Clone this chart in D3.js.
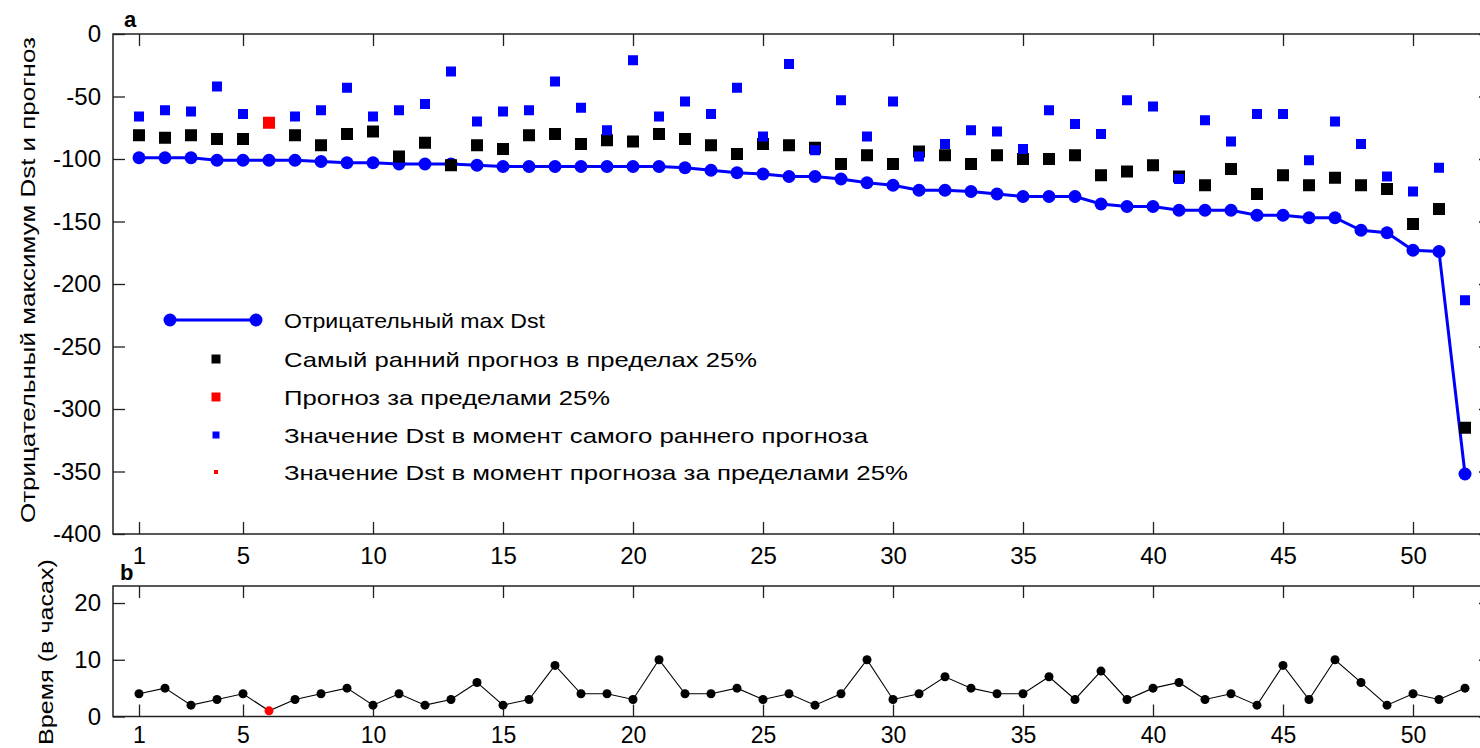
<!DOCTYPE html>
<html>
<head>
<meta charset="utf-8">
<script src="https://cdn.jsdelivr.net/npm/d3@7"></script>
<style>
  html, body { margin: 0; padding: 0; background: #fff; overflow: hidden; }
  svg { display: block; }
  text { font-family: "Liberation Sans", Arial, sans-serif; fill: #000; }
</style>
</head>
<body>
<svg id="chart" width="1480" height="748"></svg>
<script>
// Storm index 1..52
const events = d3.range(1, 53);

// Negative maximum Dst for each storm (nT)
const dstMax = [-99, -99, -99, -101, -101, -101, -101, -102, -103, -103,
  -104, -104, -104, -105, -106, -106, -106, -106, -106, -106,
  -106, -107, -109, -111, -112, -114, -114, -116, -119, -121,
  -125, -125, -126, -128, -130, -130, -130, -136, -138, -138,
  -141, -141, -141, -145, -145, -147, -147, -157, -159, -173,
  -174, -352];

// Earliest forecast within 25% (null where the forecast fell outside 25%)
const earlyForecast = [-81, -83, -81, -84, -84, null, -81, -89, -80, -78,
  -98, -87, -105, -89, -92, -81, -80, -88, -85, -86,
  -80, -84, -89, -96, -88, -89, -91, -104, -97, -104,
  -94, -97, -104, -97, -100, -100, -97, -113, -110, -105,
  -114, -121, -108, -128, -113, -121, -115, -121, -124, -152,
  -140, -315];

// Dst value at the moment of the earliest forecast
const dstAtForecast = [-66, -61, -62, -42, -64, null, -66, -61, -43, -66,
  -61, -56, -30, -70, -62, -61, -38, -59, -77, -21,
  -66, -54, -64, -43, -82, -24, -93, -53, -82, -54,
  -98, -88, -77, -78, -92, -61, -72, -80, -53, -58,
  -116, -69, -86, -64, -64, -101, -70, -88, -114, -126,
  -107, -213];

// Forecasts outside 25%: storm index, forecast value, Dst at that moment
const outsideEvents = [6];
const outsideForecast = [-71];
const outsideDst = [-71];

// Lead time of the forecast, hours
const leadHours = [4, 5, 2, 3, 4, 1, 3, 4, 5, 2,
  4, 2, 3, 6, 2, 3, 9, 4, 4, 3,
  10, 4, 4, 5, 3, 4, 2, 4, 10, 3,
  4, 7, 5, 4, 4, 7, 3, 8, 3, 5,
  6, 3, 4, 2, 9, 3, 10, 6, 2, 4,
  3, 5];

// Tick values
const xTicks = [1, 5, 10, 15, 20, 25, 30, 35, 40, 45, 50];
const yTicksTop = [0, -50, -100, -150, -200, -250, -300, -350, -400];
const yTicksBottom = [0, 10, 20];

const legendLabels = [
  "Отрицательный max Dst",
  "Самый ранний прогноз в пределах 25%",
  "Прогноз за пределами 25%",
  "Значение Dst в момент самого раннего прогноза",
  "Значение Dst в момент прогноза за пределами 25%"
];

const BLUE = "#0000ff", RED = "#ff0000", INK = "#202020";

const svg = d3.select("#chart");

// Panel geometry (right edge of the axes runs past the visible area)
const left = 113, right = 1491;
const topA = 34, botA = 534;
const topB = 586, botB = 716.5;
const TICK = 12;

const x = d3.scaleLinear().domain([0, 53]).range([left, right]);
const yA = d3.scaleLinear().domain([-400, 0]).range([botA, topA]);
const yB = d3.scaleLinear().domain([0, 23]).range([botB, topB]);

// plain hyphen-minus labels
const fmt = d => String(d);

function styleAxis(g, fontSize) {
  g.select(".domain").remove();
  g.selectAll(".tick line").attr("stroke", INK).attr("stroke-width", 1.3);
  g.selectAll(".tick text")
    .attr("font-size", fontSize)
    .attr("font-family", "'Liberation Sans', Arial, sans-serif")
    .attr("fill", "#111");
}

function frame(top, bottom, yScale, yTicks, xPad, xFont) {
  // inward ticks on all four sides
  svg.append("g").attr("transform", `translate(0,${bottom})`)
    .call(d3.axisBottom(x).tickValues(xTicks).tickSize(-TICK).tickPadding(xPad).tickFormat(fmt))
    .call(g => styleAxis(g, xFont));
  svg.append("g").attr("transform", `translate(0,${top})`)
    .call(d3.axisTop(x).tickValues(xTicks).tickSize(-TICK).tickFormat(""))
    .call(g => styleAxis(g, 24));
  svg.append("g").attr("transform", `translate(${left},0)`)
    .call(d3.axisLeft(yScale).tickValues(yTicks).tickSize(-TICK).tickPadding(12).tickFormat(fmt))
    .call(g => styleAxis(g, 24));
  svg.append("g").attr("transform", `translate(${right},0)`)
    .call(d3.axisRight(yScale).tickValues(yTicks).tickSize(-TICK).tickFormat(""))
    .call(g => styleAxis(g, 24));
  svg.append("rect")
    .attr("x", left).attr("y", top)
    .attr("width", right - left).attr("height", bottom - top)
    .attr("fill", "none").attr("stroke", INK).attr("stroke-width", 1.5);
}

// ---------- panel a ----------
frame(topA, botA, yA, yTicksTop, 13, 24);

const plotA = svg.append("g");

plotA.append("path")
  .datum(events)
  .attr("fill", "none").attr("stroke", BLUE).attr("stroke-width", 3)
  .attr("d", d3.line().x(d => x(d)).y((d, i) => yA(dstMax[i])));

plotA.selectAll("circle.dst")
  .data(events).join("circle")
  .attr("class", "dst")
  .attr("cx", d => x(d)).attr("cy", (d, i) => yA(dstMax[i]))
  .attr("r", 6.5).attr("fill", BLUE);

function squares(g, xs, ys, size, color) {
  g.selectAll(null)
    .data(xs.map((e, i) => [e, ys[i]]).filter(p => p[1] != null))
    .join("rect")
    .attr("x", p => x(p[0]) - size / 2)
    .attr("y", p => yA(p[1]) - size / 2)
    .attr("width", size).attr("height", size)
    .attr("fill", color);
}

squares(plotA, events, earlyForecast, 12, "#000");
squares(plotA, outsideEvents, outsideForecast, 12, RED);
squares(plotA, events, dstAtForecast, 10, BLUE);
squares(plotA, outsideEvents, outsideDst, 5, RED);

// legend
const legY = [320, 359, 397, 435, 472];
const legWidths = [261, 473, 326, 584, 624];
const leg = svg.append("g");
leg.append("line")
  .attr("x1", 170).attr("x2", 256).attr("y1", legY[0]).attr("y2", legY[0])
  .attr("stroke", BLUE).attr("stroke-width", 3);
leg.selectAll("circle").data([170, 256]).join("circle")
  .attr("cx", d => d).attr("cy", legY[0]).attr("r", 6.5).attr("fill", BLUE);
const legMarks = [[9, "#000"], [9, RED], [7, BLUE], [4, RED]];
legMarks.forEach((m, i) => {
  leg.append("rect")
    .attr("x", 216 - m[0] / 2).attr("y", legY[i + 1] - m[0] / 2)
    .attr("width", m[0]).attr("height", m[0]).attr("fill", m[1]);
});
leg.selectAll("text").data(legendLabels).join("text")
  .attr("x", 284).attr("y", (d, i) => legY[i])
  .attr("dy", "0.36em")
  .attr("font-size", 21)
  .attr("fill", "#111")
  .attr("textLength", (d, i) => legWidths[i])
  .attr("lengthAdjust", "spacingAndGlyphs")
  .text(d => d);

// y label of panel a
svg.append("text")
  .attr("transform", "translate(35,280) rotate(-90)")
  .attr("text-anchor", "middle")
  .attr("font-size", 21)
  .attr("fill", "#111")
  .attr("textLength", 486).attr("lengthAdjust", "spacingAndGlyphs")
  .text("Отрицательный максимум Dst и прогноз");

svg.append("text")
  .attr("x", 124).attr("y", 27)
  .attr("font-family", "'Liberation Serif', serif")
  .attr("font-weight", "bold").attr("font-size", 22)
  .text("a");

// ---------- panel b ----------
frame(topB, botB, yB, yTicksBottom, 10, 23);

const plotB = svg.append("g");
plotB.append("path")
  .datum(events)
  .attr("fill", "none").attr("stroke", "#000").attr("stroke-width", 1.1)
  .attr("d", d3.line().x(d => x(d)).y((d, i) => yB(leadHours[i])));
plotB.selectAll("circle")
  .data(events).join("circle")
  .attr("cx", d => x(d)).attr("cy", (d, i) => yB(leadHours[i]))
  .attr("r", 4.5)
  .attr("fill", d => outsideEvents.includes(d) ? RED : "#000");

svg.append("text")
  .attr("transform", "translate(53,652) rotate(-90)")
  .attr("text-anchor", "middle")
  .attr("font-size", 21)
  .attr("fill", "#111")
  .attr("textLength", 186).attr("lengthAdjust", "spacingAndGlyphs")
  .text("Время (в часах)");

svg.append("text")
  .attr("x", 120).attr("y", 580)
  .attr("font-family", "'Liberation Serif', serif")
  .attr("font-weight", "bold").attr("font-size", 22)
  .text("b");
</script>
</body>
</html>
